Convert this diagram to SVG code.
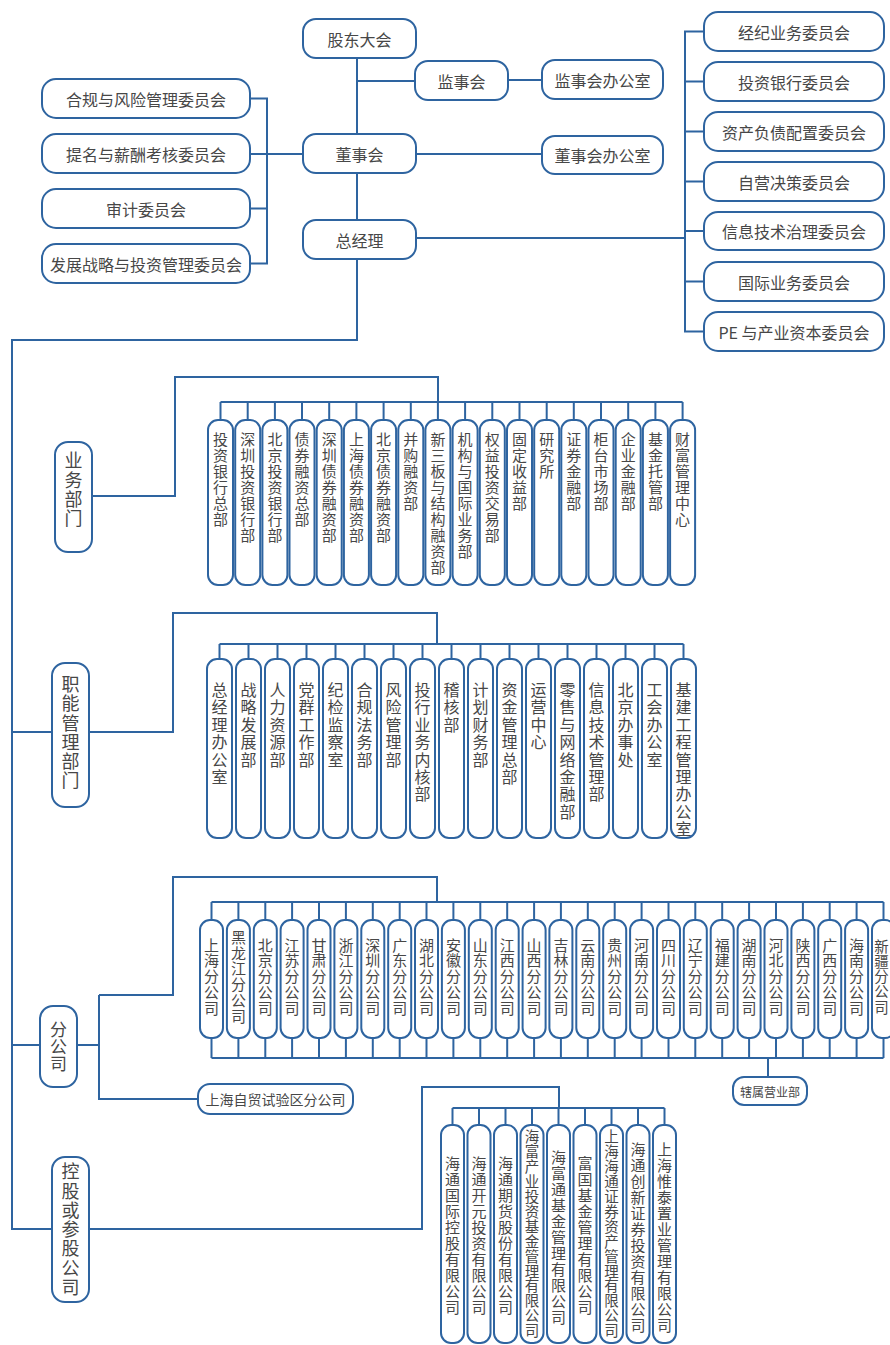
<svg xmlns="http://www.w3.org/2000/svg" width="890" height="1345" viewBox="0 0 890 1345">
<style>
.bx{fill:#fff;stroke:#2e64a0;stroke-width:2}
.ln{fill:none;stroke:#2e64a0;stroke-width:2}
.t{font-family:"Noto Sans CJK SC","Noto Sans",sans-serif;fill:#474747;font-size:16px;text-anchor:middle;dominant-baseline:central}
.v{font-family:"Noto Sans CJK SC","Noto Sans",sans-serif;fill:#474747;writing-mode:vertical-rl;text-anchor:start}
.vb{font-size:15px;letter-spacing:1px}
.vf{font-size:16px;letter-spacing:1.4px}
.vc{font-size:15px;letter-spacing:0.8px;text-anchor:middle}
.vh{font-size:15px;letter-spacing:1px;text-anchor:middle}
.vl{font-size:18px;letter-spacing:1.3px;text-anchor:middle}
</style>
<rect width="890" height="1345" fill="#fff"/>
<g id="connectors">
<path class="ln" d="M357 58V220M357 259V340H12V1229H422V1087H559V1108"/>
<path class="ln" d="M357 81H415M508 80H542M416 154H542"/>
<path class="ln" d="M303 154H267M250 98.5H267V263.5H250M250 154H267M250 208.5H267"/>
<path class="ln" d="M416 238H685M704 31.5H685V331.5H704M685 81.5H704M685 131.5H704M685 181.5H704M685 231H704M685 281.5H704"/>
<path class="ln" d="M92 496H175V377H438V402M220.5 402H682.6"/>
<path class="ln" d="M220.5 402V420M247.7 402V420M274.9 402V420M302 402V420M329.2 402V420M356.4 402V420M383.6 402V420M410.8 402V420M437.9 402V420M465.1 402V420M492.3 402V420M519.5 402V420M546.7 402V420M573.8 402V420M601 402V420M628.2 402V420M655.4 402V420M682.6 402V420"/>
<path class="ln" d="M12 732H52M89 732H173V613H437V644M219.5 644H683.5"/>
<path class="ln" d="M219.5 644V659M248.5 644V659M277.5 644V659M306.5 644V659M335.5 644V659M364.5 644V659M393.5 644V659M422.5 644V659M451.5 644V659M480.5 644V659M509.5 644V659M538.5 644V659M567.5 644V659M596.5 644V659M625.5 644V659M654.5 644V659M683.5 644V659"/>
<path class="ln" d="M12 1045H40M77 1045H99M99 995V1099H198M99 995H173V877H437V902M211.5 902H883.5M211.5 1058H883.5M768 1058V1077"/>
<path class="ln" d="M211.5 902V1058M238.4 902V1058M265.3 902V1058M292.1 902V1058M319 902V1058M345.9 902V1058M372.8 902V1058M399.7 902V1058M426.5 902V1058M453.4 902V1058M480.3 902V1058M507.2 902V1058M534.1 902V1058M560.9 902V1058M587.8 902V1058M614.7 902V1058M641.6 902V1058M668.5 902V1058M695.3 902V1058M722.2 902V1058M749.1 902V1058M776 902V1058M802.9 902V1058M829.7 902V1058M856.6 902V1058M883.5 902V1058"/>
<path class="ln" d="M452.5 1108H664.5M452.5 1108V1125M479 1108V1125M505.5 1108V1125M532 1108V1125M558.5 1108V1125M585 1108V1125M611.5 1108V1125M638 1108V1125M664.5 1108V1125"/>
</g>
<g id="n-gudong"><rect class="bx" x="303" y="19" width="113" height="39" rx="13"/><text class="t" x="359.5" y="38.5">股东大会</text></g>
<g id="n-jianshihui"><rect class="bx" x="415" y="61" width="93" height="39" rx="13"/><text class="t" x="461.5" y="80.5">监事会</text></g>
<g id="n-jianshiban"><rect class="bx" x="542" y="60" width="121" height="39" rx="13"/><text class="t" x="602.5" y="79.5">监事会办公室</text></g>
<g id="n-dongshihui"><rect class="bx" x="303" y="134" width="113" height="39" rx="13"/><text class="t" x="359.5" y="153.5">董事会</text></g>
<g id="n-dongshiban"><rect class="bx" x="542" y="136" width="121" height="38" rx="13"/><text class="t" x="602.5" y="155">董事会办公室</text></g>
<g id="n-zongjingli"><rect class="bx" x="303" y="220" width="113" height="39" rx="13"/><text class="t" x="359.5" y="239.5">总经理</text></g>
<g id="n-hegui"><rect class="bx" x="42" y="79" width="208" height="39" rx="14"/><text class="t" x="146" y="98.5">合规与风险管理委员会</text></g>
<g id="n-timing"><rect class="bx" x="42" y="134" width="208" height="39" rx="14"/><text class="t" x="146" y="153.5">提名与薪酬考核委员会</text></g>
<g id="n-shenji"><rect class="bx" x="42" y="189" width="208" height="39" rx="14"/><text class="t" x="146" y="208.5">审计委员会</text></g>
<g id="n-fazhan"><rect class="bx" x="42" y="244" width="208" height="39" rx="14"/><text class="t" x="146" y="263.5">发展战略与投资管理委员会</text></g>
<g id="n-jingji"><rect class="bx" x="704" y="12" width="180" height="39" rx="14"/><text class="t" x="794" y="31.5">经纪业务委员会</text></g>
<g id="n-touhang"><rect class="bx" x="704" y="62" width="180" height="39" rx="14"/><text class="t" x="794" y="81.5">投资银行委员会</text></g>
<g id="n-zichan"><rect class="bx" x="704" y="112" width="180" height="39" rx="14"/><text class="t" x="794" y="131.5">资产负债配置委员会</text></g>
<g id="n-ziying"><rect class="bx" x="704" y="162" width="180" height="39" rx="14"/><text class="t" x="794" y="181.5">自营决策委员会</text></g>
<g id="n-xinxi"><rect class="bx" x="704" y="212" width="180" height="38" rx="14"/><text class="t" x="794" y="231">信息技术治理委员会</text></g>
<g id="n-guoji"><rect class="bx" x="704" y="262" width="180" height="39" rx="14"/><text class="t" x="794" y="281.5">国际业务委员会</text></g>
<g id="n-pe"><rect class="bx" x="704" y="312" width="180" height="39" rx="14"/><text class="t" x="794" y="331.5">PE 与产业资本委员会</text></g>

<g id="n-yewu"><rect class="bx" x="55" y="442" width="37" height="110" rx="13"/><text class="v vl" x="73.5" y="490">业务部门</text></g>
<g id="n-zhineng"><rect class="bx" x="52" y="663" width="37" height="144" rx="13"/><text class="v vl" x="70.5" y="733">职能管理部门</text></g>
<g id="n-fengongsi"><rect class="bx" x="40" y="1006" width="37" height="81" rx="13"/><text class="v vl" x="58.5" y="1047" style="letter-spacing:0px;font-size:17px">分公司</text></g>
<g id="n-konggu"><rect class="bx" x="52" y="1157" width="37" height="145" rx="13"/><text class="v vl" x="70.5" y="1230">控股或参股公司</text></g>

<g id="n-b1"><rect class="bx" x="208" y="420" width="25" height="165" rx="10"/><text class="v vb" x="220.5" y="432">投资银行总部</text></g>
<g id="n-b2"><rect class="bx" x="235.2" y="420" width="25" height="165" rx="10"/><text class="v vb" x="247.7" y="432">深圳投资银行部</text></g>
<g id="n-b3"><rect class="bx" x="262.4" y="420" width="25" height="165" rx="10"/><text class="v vb" x="274.9" y="432">北京投资银行部</text></g>
<g id="n-b4"><rect class="bx" x="289.5" y="420" width="25" height="165" rx="10"/><text class="v vb" x="302" y="432">债券融资总部</text></g>
<g id="n-b5"><rect class="bx" x="316.7" y="420" width="25" height="165" rx="10"/><text class="v vb" x="329.2" y="432">深圳债券融资部</text></g>
<g id="n-b6"><rect class="bx" x="343.9" y="420" width="25" height="165" rx="10"/><text class="v vb" x="356.4" y="432">上海债券融资部</text></g>
<g id="n-b7"><rect class="bx" x="371.1" y="420" width="25" height="165" rx="10"/><text class="v vb" x="383.6" y="432">北京债券融资部</text></g>
<g id="n-b8"><rect class="bx" x="398.3" y="420" width="25" height="165" rx="10"/><text class="v vb" x="410.8" y="432">并购融资部</text></g>
<g id="n-b9"><rect class="bx" x="425.4" y="420" width="25" height="165" rx="10"/><text class="v vb" x="437.9" y="432">新三板与结构融资部</text></g>
<g id="n-b10"><rect class="bx" x="452.6" y="420" width="25" height="165" rx="10"/><text class="v vb" x="465.1" y="432">机构与国际业务部</text></g>
<g id="n-b11"><rect class="bx" x="479.8" y="420" width="25" height="165" rx="10"/><text class="v vb" x="492.3" y="432">权益投资交易部</text></g>
<g id="n-b12"><rect class="bx" x="507" y="420" width="25" height="165" rx="10"/><text class="v vb" x="519.5" y="432">固定收益部</text></g>
<g id="n-b13"><rect class="bx" x="534.2" y="420" width="25" height="165" rx="10"/><text class="v vb" x="546.7" y="432">研究所</text></g>
<g id="n-b14"><rect class="bx" x="561.3" y="420" width="25" height="165" rx="10"/><text class="v vb" x="573.8" y="432">证券金融部</text></g>
<g id="n-b15"><rect class="bx" x="588.5" y="420" width="25" height="165" rx="10"/><text class="v vb" x="601" y="432">柜台市场部</text></g>
<g id="n-b16"><rect class="bx" x="615.7" y="420" width="25" height="165" rx="10"/><text class="v vb" x="628.2" y="432">企业金融部</text></g>
<g id="n-b17"><rect class="bx" x="642.9" y="420" width="25" height="165" rx="10"/><text class="v vb" x="655.4" y="432">基金托管部</text></g>
<g id="n-b18"><rect class="bx" x="670.1" y="420" width="25" height="165" rx="10"/><text class="v vb" x="682.6" y="432">财富管理中心</text></g>

<g id="n-f1"><rect class="bx" x="207" y="659" width="25" height="179" rx="10"/><text class="v vf" x="219.5" y="682">总经理办公室</text></g>
<g id="n-f2"><rect class="bx" x="236" y="659" width="25" height="179" rx="10"/><text class="v vf" x="248.5" y="682">战略发展部</text></g>
<g id="n-f3"><rect class="bx" x="265" y="659" width="25" height="179" rx="10"/><text class="v vf" x="277.5" y="682">人力资源部</text></g>
<g id="n-f4"><rect class="bx" x="294" y="659" width="25" height="179" rx="10"/><text class="v vf" x="306.5" y="682">党群工作部</text></g>
<g id="n-f5"><rect class="bx" x="323" y="659" width="25" height="179" rx="10"/><text class="v vf" x="335.5" y="682">纪检监察室</text></g>
<g id="n-f6"><rect class="bx" x="352" y="659" width="25" height="179" rx="10"/><text class="v vf" x="364.5" y="682">合规法务部</text></g>
<g id="n-f7"><rect class="bx" x="381" y="659" width="25" height="179" rx="10"/><text class="v vf" x="393.5" y="682">风险管理部</text></g>
<g id="n-f8"><rect class="bx" x="410" y="659" width="25" height="179" rx="10"/><text class="v vf" x="422.5" y="682">投行业务内核部</text></g>
<g id="n-f9"><rect class="bx" x="439" y="659" width="25" height="179" rx="10"/><text class="v vf" x="451.5" y="682">稽核部</text></g>
<g id="n-f10"><rect class="bx" x="468" y="659" width="25" height="179" rx="10"/><text class="v vf" x="480.5" y="682">计划财务部</text></g>
<g id="n-f11"><rect class="bx" x="497" y="659" width="25" height="179" rx="10"/><text class="v vf" x="509.5" y="682">资金管理总部</text></g>
<g id="n-f12"><rect class="bx" x="526" y="659" width="25" height="179" rx="10"/><text class="v vf" x="538.5" y="682">运营中心</text></g>
<g id="n-f13"><rect class="bx" x="555" y="659" width="25" height="179" rx="10"/><text class="v vf" x="567.5" y="682">零售与网络金融部</text></g>
<g id="n-f14"><rect class="bx" x="584" y="659" width="25" height="179" rx="10"/><text class="v vf" x="596.5" y="682">信息技术管理部</text></g>
<g id="n-f15"><rect class="bx" x="613" y="659" width="25" height="179" rx="10"/><text class="v vf" x="625.5" y="682">北京办事处</text></g>
<g id="n-f16"><rect class="bx" x="642" y="659" width="25" height="179" rx="10"/><text class="v vf" x="654.5" y="682">工会办公室</text></g>
<g id="n-f17"><rect class="bx" x="671" y="659" width="25" height="179" rx="10"/><text class="v vf" x="683.5" y="682">基建工程管理办公室</text></g>

<g id="n-c1"><rect class="bx" x="200" y="920" width="23" height="118" rx="10"/><text class="v vc" x="211.5" y="977">上海分公司</text></g>
<g id="n-c2"><rect class="bx" x="226.9" y="920" width="23" height="118" rx="10"/><text class="v vc" x="238.4" y="977">黑龙江分公司</text></g>
<g id="n-c3"><rect class="bx" x="253.8" y="920" width="23" height="118" rx="10"/><text class="v vc" x="265.3" y="977">北京分公司</text></g>
<g id="n-c4"><rect class="bx" x="280.6" y="920" width="23" height="118" rx="10"/><text class="v vc" x="292.1" y="977">江苏分公司</text></g>
<g id="n-c5"><rect class="bx" x="307.5" y="920" width="23" height="118" rx="10"/><text class="v vc" x="319" y="977">甘肃分公司</text></g>
<g id="n-c6"><rect class="bx" x="334.4" y="920" width="23" height="118" rx="10"/><text class="v vc" x="345.9" y="977">浙江分公司</text></g>
<g id="n-c7"><rect class="bx" x="361.3" y="920" width="23" height="118" rx="10"/><text class="v vc" x="372.8" y="977">深圳分公司</text></g>
<g id="n-c8"><rect class="bx" x="388.2" y="920" width="23" height="118" rx="10"/><text class="v vc" x="399.7" y="977">广东分公司</text></g>
<g id="n-c9"><rect class="bx" x="415" y="920" width="23" height="118" rx="10"/><text class="v vc" x="426.5" y="977">湖北分公司</text></g>
<g id="n-c10"><rect class="bx" x="441.9" y="920" width="23" height="118" rx="10"/><text class="v vc" x="453.4" y="977">安徽分公司</text></g>
<g id="n-c11"><rect class="bx" x="468.8" y="920" width="23" height="118" rx="10"/><text class="v vc" x="480.3" y="977">山东分公司</text></g>
<g id="n-c12"><rect class="bx" x="495.7" y="920" width="23" height="118" rx="10"/><text class="v vc" x="507.2" y="977">江西分公司</text></g>
<g id="n-c13"><rect class="bx" x="522.6" y="920" width="23" height="118" rx="10"/><text class="v vc" x="534.1" y="977">山西分公司</text></g>
<g id="n-c14"><rect class="bx" x="549.4" y="920" width="23" height="118" rx="10"/><text class="v vc" x="560.9" y="977">吉林分公司</text></g>
<g id="n-c15"><rect class="bx" x="576.3" y="920" width="23" height="118" rx="10"/><text class="v vc" x="587.8" y="977">云南分公司</text></g>
<g id="n-c16"><rect class="bx" x="603.2" y="920" width="23" height="118" rx="10"/><text class="v vc" x="614.7" y="977">贵州分公司</text></g>
<g id="n-c17"><rect class="bx" x="630.1" y="920" width="23" height="118" rx="10"/><text class="v vc" x="641.6" y="977">河南分公司</text></g>
<g id="n-c18"><rect class="bx" x="657" y="920" width="23" height="118" rx="10"/><text class="v vc" x="668.5" y="977">四川分公司</text></g>
<g id="n-c19"><rect class="bx" x="683.8" y="920" width="23" height="118" rx="10"/><text class="v vc" x="695.3" y="977">辽宁分公司</text></g>
<g id="n-c20"><rect class="bx" x="710.7" y="920" width="23" height="118" rx="10"/><text class="v vc" x="722.2" y="977">福建分公司</text></g>
<g id="n-c21"><rect class="bx" x="737.6" y="920" width="23" height="118" rx="10"/><text class="v vc" x="749.1" y="977">湖南分公司</text></g>
<g id="n-c22"><rect class="bx" x="764.5" y="920" width="23" height="118" rx="10"/><text class="v vc" x="776" y="977">河北分公司</text></g>
<g id="n-c23"><rect class="bx" x="791.4" y="920" width="23" height="118" rx="10"/><text class="v vc" x="802.9" y="977">陕西分公司</text></g>
<g id="n-c24"><rect class="bx" x="818.2" y="920" width="23" height="118" rx="10"/><text class="v vc" x="829.7" y="977">广西分公司</text></g>
<g id="n-c25"><rect class="bx" x="845.1" y="920" width="23" height="118" rx="10"/><text class="v vc" x="856.6" y="977">海南分公司</text></g>
<g id="n-c26"><rect class="bx" x="872" y="920" width="23" height="118" rx="10"/><text class="v vc" x="881.5" y="977" style="font-size:14.5px">新疆分公司</text></g>
<g id="n-xiashu"><rect class="bx" x="733" y="1077" width="74" height="28" rx="11"/><text class="t" x="770" y="1091" style="font-size:12px">辖属营业部</text></g>
<g id="n-ziMao"><rect class="bx" x="198" y="1084" width="155" height="30" rx="12"/><text class="t" x="275.5" y="1099" style="font-size:14px">上海自贸试验区分公司</text></g>

<g id="n-h1"><rect class="bx" x="441" y="1125" width="23" height="218" rx="10"/><text class="v vh" x="452.5" y="1236">海通国际控股有限公司</text></g>
<g id="n-h2"><rect class="bx" x="467.5" y="1125" width="23" height="218" rx="10"/><text class="v vh" x="479" y="1236">海通开元投资有限公司</text></g>
<g id="n-h3"><rect class="bx" x="494" y="1125" width="23" height="218" rx="10"/><text class="v vh" x="505.5" y="1236">海通期货股份有限公司</text></g>
<g id="n-h4"><rect class="bx" x="520.5" y="1125" width="23" height="218" rx="10"/><text class="v vh" x="532" y="1234" style="font-size:14.5px;letter-spacing:0.4px">海富产业投资基金管理有限公司</text></g>
<g id="n-h5"><rect class="bx" x="547" y="1125" width="23" height="218" rx="10"/><text class="v vh" x="558.5" y="1238">海富通基金管理有限公司</text></g>
<g id="n-h6"><rect class="bx" x="573.5" y="1125" width="23" height="218" rx="10"/><text class="v vh" x="585" y="1236">富国基金管理有限公司</text></g>
<g id="n-h7"><rect class="bx" x="600" y="1125" width="23" height="218" rx="10"/><text class="v vh" x="611.5" y="1234" style="font-size:14.5px;letter-spacing:0.4px">上海海通证券资产管理有限公司</text></g>
<g id="n-h8"><rect class="bx" x="626.5" y="1125" width="23" height="218" rx="10"/><text class="v vh" x="638" y="1238">海通创新证券投资有限公司</text></g>
<g id="n-h9"><rect class="bx" x="653" y="1125" width="23" height="218" rx="10"/><text class="v vh" x="664.5" y="1238">上海惟泰置业管理有限公司</text></g>
</svg>
